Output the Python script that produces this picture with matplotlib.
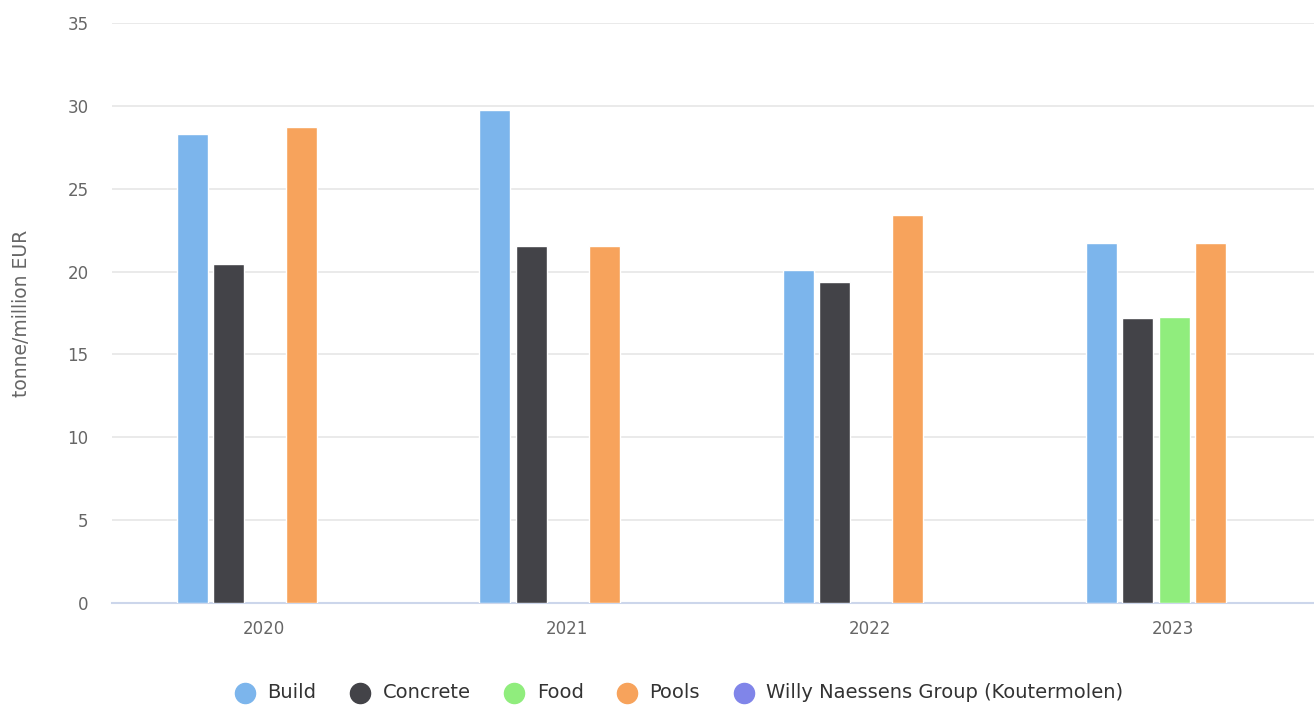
import numpy as np
import matplotlib.pyplot as plt

plt.rcParams["font.family"] = ["DejaVu Sans"]

years = ["2020", "2021", "2022", "2023"]
series = ["Build", "Concrete", "Food", "Pools", "Willy Naessens Group (Koutermolen)"]
build = [28.3, 29.75, 20.1, 21.75]
concrete = [20.45, 21.55, 19.4, 17.2]
food = [None, None, None, 17.25]
pools = [28.7, 21.55, 23.4, 21.75]
willy = [None, None, None, None]
colors = ["#7cb5ec", "#434348", "#90ed7d", "#f7a35c", "#8085e9"]

fig = plt.figure(figsize=(13.14, 7.05), dpi=100)
ax = fig.add_axes([112 / 1314, 102 / 705, 1212 / 1314, 580 / 705])

x = np.arange(len(years))
slot = 36.5 / 303
for i, (name, vals, c) in enumerate(zip(series, [build, concrete, food, pools, willy], colors)):
    xs = [xi + (i - 2) * slot + 1.5 / 303 for xi, v in zip(x, vals) if v is not None]
    vs = [v for v in vals if v is not None]
    ax.bar(xs, vs, width=31 / 303, color=c, edgecolor="white", linewidth=1, zorder=3)
    ax.scatter([], [], s=210, color=c, label=name)

ax.set_xlim(-0.5, 3.5)
ax.set_ylim(0, 35)
ax.set_yticks(range(0, 36, 5))
ax.set_xticks(x)
ax.set_xticklabels(years)
ax.tick_params(axis="both", length=0, labelsize=12, labelcolor="#666666")
ax.tick_params(axis="y", pad=17)
ax.tick_params(axis="x", pad=12)
ax.grid(axis="y", color="#e6e6e6", linewidth=1.2, zorder=0)
for s in ["top", "right", "left"]:
    ax.spines[s].set_visible(False)
ax.spines["bottom"].set_color("#ccd6eb")
ax.spines["bottom"].set_linewidth(1.5)
ax.set_ylabel("tonne/million EUR", fontsize=13.5, color="#666666", labelpad=26)

fig.legend(loc="center", bbox_to_anchor=(0.517, 1 - 693 / 705), ncol=5, frameon=False,
           fontsize=14, labelcolor="#333333", handlelength=1, handletextpad=0.65,
           columnspacing=1.75)

fig.savefig("out.png", dpi=100)
